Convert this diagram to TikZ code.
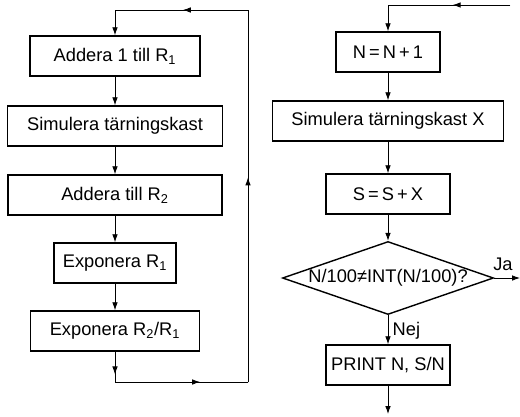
\documentclass[tikz,border=0pt]{standalone}
\usepackage{fontspec}
\setmainfont{Liberation Sans}
\usetikzlibrary{shapes.geometric,arrows.meta,decorations.markings}
\tikzset{
  stepbox/.style={draw, line width=1pt, minimum height=1cm, inner sep=2pt, font=\fontsize{13}{15}\selectfont},
  testbox/.style={draw, diamond, aspect=2.9, line width=1pt, minimum width=5.275cm, minimum height=1.825cm, inner sep=0pt, font=\fontsize{13}{15}\selectfont},
  flow/.style={line width=0.6pt, -{Latex[length=2mm,width=1.4mm]}},
  loopline/.style={line width=0.6pt, line cap=rect, postaction={decorate},
    decoration={markings, mark=at position #1 with {\arrow{Latex[length=2mm,width=1.4mm]}}}},
  loopline/.default=0.5,
  note/.style={font=\fontsize{13}{15}\selectfont, inner sep=1pt}
}

\begin{document}
\begin{tikzpicture}[x=0.025cm, y=-0.025cm]
  \useasboundingbox (0,0) rectangle (520,416);
  % left chain
  \node[stepbox, minimum width=4.25cm] (addone) at (115,56) {Addera 1 till R\textsubscript{1}};
  \node[stepbox, minimum width=5.375cm] (simleft) at (115,126) {Simulera tärningskast};
  \node[stepbox, minimum width=5.35cm] (addtwo) at (115,195) {Addera till R\textsubscript{2}};
  \node[stepbox, minimum width=3.05cm] (expone) at (115,263) {Exponera R\textsubscript{1}};
  \node[stepbox, minimum width=4.225cm] (exptwo) at (115,331) {Exponera R\textsubscript{2}/R\textsubscript{1}};
  \coordinate (lbl) at (115,382);
  \coordinate (lbr) at (248,382);
  \coordinate (ltr) at (248,10);
  \coordinate (ltl) at (115,10);
  \draw[flow] (addone) -- (simleft);
  \draw[flow] (simleft) -- (addtwo);
  \draw[flow] (addtwo) -- (expone);
  \draw[flow] (expone) -- (exptwo);
  \draw[loopline=0.75] (exptwo) -- (lbl);
  \draw[loopline=0.64] (lbl) -- (lbr);
  \draw[loopline=0.55] (lbr) -- (ltr);
  \draw[loopline=0.49] (ltr) -- (ltl);
  \draw[flow] (ltl) -- (addone);
  % right chain
  \node[stepbox, minimum width=2.6cm] (incn) at (388,52) {N\,=\,N\,+\,1};
  \node[stepbox, minimum width=5.775cm] (simright) at (388,121) {Simulera tärningskast X};
  \node[stepbox, minimum width=3.1cm] (sums) at (388,194) {S\,=\,S\,+\,X};
  \node[testbox] (check) at (388,278) {N/100≠INT(N/100)?};
  \node[stepbox, minimum width=3.1cm] (printn) at (388,365) {PRINT N, S/N};
  \coordinate (rin) at (510,5);
  \coordinate (rtl) at (388,5);
  \coordinate (jaend) at (520,278);
  \coordinate (rout) at (388,414);
  \draw[loopline=0.47] (rin) -- (rtl);
  \draw[flow] (rtl) -- (incn);
  \draw[flow] (incn) -- (simright);
  \draw[flow] (simright) -- (sums);
  \draw[flow] (sums) -- (check);
  \draw[flow] (check) -- (printn);
  \draw[flow] (check.east) -- (jaend);
  \draw[flow] (printn) -- (rout);
  \node[note] (ja) at (503,264) {Ja};
  \node[note, anchor=west] (nej) at (391,331) {Nej};
\end{tikzpicture}
\end{document}
